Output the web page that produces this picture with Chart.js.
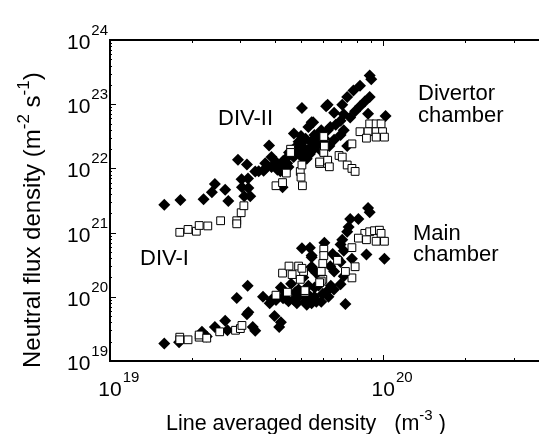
<!DOCTYPE html>
<html>
<head>
<meta charset="utf-8">
<script src="https://cdn.jsdelivr.net/npm/chart.js@4/dist/chart.umd.min.js"></script>
<style>
  html, body { margin: 0; padding: 0; background: #fff; overflow: hidden; }
  #wrap { width: 545px; height: 434px; position: relative; }
</style>
</head>
<body>
<div id="wrap"><canvas id="chart"></canvas></div>
<script>
// ── Data ──────────────────────────────────────────────────────────────────
// x: line averaged density in units of 1e19 m^-3, y: neutral flux density
const X_UNIT = 1e19;

// Divertor chamber, DIV-II (filled diamonds)
const divIIPoints = [
  [1.58, 2.71e21], [1.81, 3.22e21], [2.20, 3.30e21], [2.42, 5.69e21], [2.36, 4.27e21],
  [2.64, 4.64e21], [2.71, 3.11e21], [2.94, 1.36e22], [3.17, 1.15e22], [3.03, 6.75e21],
  [3.20, 6.98e21], [3.04, 5.07e21], [3.21, 4.96e21], [3.10, 3.69e21], [3.26, 3.69e21],
  [3.40, 8.97e21], [3.65, 9.18e21], [3.82, 2.28e22], [4.05, 1.26e22], [4.22, 1.15e22],
  [4.40, 1.41e22], [4.52, 1.77e22], [4.71, 3.51e22], [5.04, 8.75e22], [5.47, 5.24e22],
  [6.18, 9.25e22], [4.28, 5.07e21], [5.04, 1.60e22], [5.32, 1.88e22], [5.54, 2.80e22],
  [5.77, 2.23e22], [6.26, 3.94e22], [5.25, 1.41e22], [8.92, 2.80e23], [9.04, 2.44e23],
  [8.22, 1.94e23], [7.78, 1.64e23], [7.38, 1.30e23], [7.08, 9.80e22], [8.92, 1.30e23],
  [8.56, 1.10e23], [8.22, 9.25e22], [7.89, 7.80e22], [7.57, 6.22e22], [6.26, 9.80e22],
  [6.61, 7.38e22], [7.17, 6.96e22], [6.98, 5.54e22], [8.80, 7.13e22], [10.2, 6.57e22],
  [5.54, 5.24e22], [5.32, 4.42e22], [5.93, 3.94e22], [7.17, 3.94e22], [6.98, 3.32e22],
  [6.61, 2.80e22], [6.35, 2.23e22], [5.69, 3.14e22], [5.47, 2.50e22], [5.17, 1.99e22],
  [5.39, 1.67e22], [5.11, 1.41e22], [7.38, 2.23e22], [4.90, 2.60e22], [5.20, 2.90e22],
  [5.60, 3.30e22], [6.00, 2.60e22], [5.90, 1.90e22], [4.60, 1.90e22], [4.30, 1.00e22],
  [3.90, 1.05e22], [4.10, 9.50e21], [3.50, 9.00e21], [4.70, 1.50e22], [6.10, 2.90e22],
  [4.80, 2.20e22], [5.00, 2.40e22], [5.40, 2.10e22], [4.45, 1.20e22], [3.70, 1.00e22],
  [5.00, 3.20e22], [5.70, 2.60e22], [6.00, 3.50e22], [4.90, 1.70e22], [5.50, 1.90e22],
  [6.40, 4.40e22], [6.70, 4.80e22], [4.30, 1.30e22], [3.70, 1.20e22], [3.90, 1.50e22],
  [4.00, 1.10e22], [4.20, 9.00e21], [4.50, 1.05e22]
];

// Divertor chamber, DIV-I (open squares)
const divIPoints = [
  [1.80, 1.01e21], [1.93, 1.12e21], [2.07, 1.05e21], [2.12, 1.29e21], [2.28, 1.27e21],
  [2.54, 1.53e21], [2.91, 1.53e21], [2.91, 1.37e21], [3.02, 2.04e21], [3.09, 2.62e21],
  [4.05, 5.37e21], [4.28, 6.01e21], [4.42, 8.46e21], [4.58, 1.99e22], [4.58, 1.77e22],
  [4.97, 8.97e21], [5.04, 1.13e22], [5.00, 7.31e21], [5.06, 5.37e21], [6.06, 3.14e22],
  [6.06, 1.77e22], [5.85, 1.19e22], [6.26, 1.19e22], [8.92, 4.94e22], [9.42, 4.94e22],
  [9.82, 4.94e22], [8.22, 3.73e22], [8.80, 3.73e22], [9.42, 3.73e22], [9.94, 3.73e22],
  [8.68, 2.96e22], [9.42, 3.07e22], [10.1, 3.07e22], [7.68, 2.41e22], [6.89, 1.59e22],
  [7.08, 1.50e22], [6.09, 2.23e22], [5.85, 1.26e22], [6.26, 1.34e22], [6.35, 1.06e22],
  [7.38, 1.13e22], [7.68, 1.00e22], [7.89, 8.97e21]
];

// Main chamber, DIV-II (filled diamonds)
const mainIIPoints = [
  [1.58, 1.87e19], [1.79, 1.96e19], [2.17, 2.85e19], [2.26, 2.41e19], [2.42, 3.39e19],
  [2.64, 4.24e19], [2.69, 3.01e19], [2.91, 9.60e19], [3.19, 1.49e20], [3.17, 5.33e19],
  [3.21, 5.77e19], [3.33, 3.39e19], [3.40, 2.95e19], [4.00, 5.03e19], [4.22, 4.02e19],
  [4.16, 3.39e19], [3.63, 1.00e20], [3.84, 7.96e19], [4.05, 8.90e19], [4.22, 1.40e20],
  [4.40, 9.44e19], [4.83, 7.96e19], [5.17, 8.40e19], [5.47, 7.96e19], [5.04, 5.69e20],
  [5.47, 4.14e20], [5.47, 2.78e20], [5.93, 8.40e19], [6.09, 6.92e20], [4.77, 1.18e20],
  [5.61, 1.40e20], [8.80, 2.42e21], [8.92, 2.08e21], [8.11, 1.63e21], [7.57, 1.63e21],
  [7.47, 1.22e21], [7.38, 1.03e21], [7.08, 7.74e20], [6.98, 6.52e20], [7.17, 5.21e20],
  [8.68, 4.54e20], [10.1, 3.91e20], [5.39, 5.83e20], [5.47, 4.39e20], [6.53, 4.64e20],
  [7.68, 3.91e20], [6.98, 3.49e20], [5.47, 2.94e20], [5.69, 2.34e20], [6.61, 2.48e20],
  [7.17, 2.09e20], [6.98, 1.57e20], [6.43, 1.49e20], [6.01, 1.12e20], [5.32, 1.49e20],
  [5.17, 1.06e20], [5.47, 9.44e19], [5.25, 7.50e19], [5.69, 8.40e19], [7.27, 7.69e19],
  [4.60, 1.60e20], [4.90, 1.30e20], [5.10, 2.00e20], [4.40, 1.15e20], [4.70, 9.00e19],
  [5.30, 1.10e20], [5.80, 1.50e20], [6.20, 1.20e20], [4.10, 1.00e20], [3.90, 9.00e19],
  [4.50, 8.50e19], [4.30, 9.50e19], [4.90, 1.00e20], [5.60, 1.00e20], [6.30, 1.00e20],
  [6.60, 1.30e20], [5.90, 2.00e20], [6.40, 3.00e20], [6.80, 4.00e20]
];

// Main chamber, DIV-I (open squares)
const mainIPoints = [
  [1.80, 2.35e19], [1.80, 2.14e19], [1.93, 2.14e19], [2.12, 2.35e19], [2.12, 2.54e19],
  [2.26, 2.27e19], [2.52, 2.85e19], [2.88, 3.01e19], [3.00, 3.20e19], [3.04, 3.58e19],
  [4.05, 1.06e20], [4.46, 1.18e20], [5.17, 1.18e20], [4.28, 2.34e20], [4.52, 3.01e20],
  [4.90, 3.01e20], [4.64, 2.22e20], [4.97, 1.87e20], [5.11, 2.48e20], [6.06, 5.50e20],
  [6.06, 4.39e20], [6.01, 3.30e20], [5.93, 2.48e20], [6.01, 1.87e20], [8.56, 9.73e20],
  [8.92, 1.03e21], [9.29, 1.07e21], [9.68, 1.09e21], [9.82, 9.73e20], [8.11, 8.20e20],
  [8.68, 7.74e20], [9.42, 7.33e20], [10.1, 7.33e20], [7.68, 5.83e20], [6.80, 3.70e20],
  [7.89, 2.94e20], [7.68, 1.97e20], [7.27, 2.48e20], [5.93, 1.76e20], [5.04, 2.78e20],
  [5.17, 1.25e20], [5.85, 1.66e20]
];

// axis ranges and tick decades
const X_MIN = 1e19, X_MAX = 3.7e20;
const Y_MIN = 1e19, Y_MAX = 1e24;
const xDecades = [19, 20];
const yDecades = [19, 20, 21, 22, 23, 24];
const minorSteps = [2, 3, 4, 5, 6, 7, 8, 9];

const FONT = '"Liberation Sans", Arial, Helvetica, sans-serif';

const toXY = pts => pts.map(([x, y]) => ({ x: x * X_UNIT, y }));

// ── Inward ticks, 10^n labels and axis titles (drawn on the canvas) ────────
function drawPow(ctx, x, y, exp, align) {
  // "10" baseline at y; exponent raised; align 'center' or 'right'
  ctx.font = '21px ' + FONT;
  const wBase = ctx.measureText('10').width;
  ctx.font = '15px ' + FONT;
  const wExp = ctx.measureText(String(exp)).width;
  const left = align === 'right' ? x - wBase - wExp : x - wBase / 2;
  ctx.font = '21px ' + FONT;
  ctx.fillText('10', left, y);
  ctx.font = '15px ' + FONT;
  ctx.fillText(String(exp), left + wBase + 1, y - 14);
}

function drawRuns(ctx, runs, x, y, size) {
  // runs: [text, superscript?]
  const supSize = Math.round(size * 0.7);
  let cx = x;
  for (const [t, sup] of runs) {
    ctx.font = (sup ? supSize : size) + 'px ' + FONT;
    ctx.fillText(t, cx, sup ? y - size * 0.45 : y);
    cx += ctx.measureText(t).width;
  }
}

const framePlugin = {
  id: 'frame',
  afterDraw(chart) {
    const { ctx, chartArea: a, scales: { x, y } } = chart;
    ctx.save();
    ctx.strokeStyle = '#000';
    ctx.fillStyle = '#000';
    ctx.lineWidth = 1;
    ctx.textBaseline = 'alphabetic';
    ctx.textAlign = 'left';

    const seg = (x1, y1, x2, y2) => { ctx.beginPath(); ctx.moveTo(x1, y1); ctx.lineTo(x2, y2); ctx.stroke(); };

    // x ticks, bottom and top, pointing in
    for (const d of xDecades) {
      for (const m of [1, ...minorSteps]) {
        const v = m * Math.pow(10, d);
        if (v > x.max) break;
        const px = Math.round(x.getPixelForValue(v)) + 0.5;
        const len = m === 1 ? 6 : 3;
        seg(px, a.bottom, px, a.bottom - len);
        seg(px, a.top, px, a.top + len);
      }
    }
    // y ticks, left, pointing in
    for (const d of yDecades) {
      for (const m of [1, ...minorSteps]) {
        const v = m * Math.pow(10, d);
        if (v > y.max) break;
        const py = Math.round(y.getPixelForValue(v)) + 0.5;
        seg(a.left, py, a.left + (m === 1 ? 6 : 2), py);
      }
    }

    // tick labels
    for (const d of xDecades) {
      drawPow(ctx, x.getPixelForValue(Math.pow(10, d)), a.bottom + 35, d, 'center');
    }
    for (const d of yDecades) {
      drawPow(ctx, a.left - 3, y.getPixelForValue(Math.pow(10, d)) + 9, d, 'right');
    }

    // x title
    drawRuns(ctx, [['Line averaged density   (m', false], ['-3', true], [' )', false]], 166, 430, 21.5);

    // y title, rotated
    ctx.save();
    ctx.translate(40, 368);
    ctx.rotate(-Math.PI / 2);
    drawRuns(ctx, [['Neutral flux density (m', false], ['-2', true], [' s', false], ['-1', true], [')', false]], 0, 0, 24);
    ctx.restore();

    // annotations
    ctx.font = '22px ' + FONT;
    ctx.fillText('DIV-II', 218, 125);
    ctx.fillText('DIV-I', 140, 265);
    ctx.fillText('Divertor', 418, 100);
    ctx.fillText('chamber', 418, 122);
    ctx.fillText('Main', 413, 240);
    ctx.fillText('chamber', 413, 261);
    ctx.restore();
  }
};

const diamond = { pointStyle: 'rectRot', pointRadius: 6, backgroundColor: '#000', borderColor: '#000', borderWidth: 0 };
const square = { pointStyle: 'rect', pointRadius: 5.5, backgroundColor: '#fff', borderColor: '#000', borderWidth: 1 };

const axisBase = {
  type: 'logarithmic',
  ticks: { display: false },
  grid: { display: false },
  border: { display: true, color: '#000', width: 2 }
};

new Chart(document.getElementById('chart'), {
  type: 'scatter',
  data: {
    datasets: [
      // first dataset is painted last, so open squares sit on top
      { label: 'Divertor DIV-I', data: toXY(divIPoints), ...square },
      { label: 'Main DIV-I', data: toXY(mainIPoints), ...square },
      { label: 'Divertor DIV-II', data: toXY(divIIPoints), ...diamond },
      { label: 'Main DIV-II', data: toXY(mainIIPoints), ...diamond }
    ]
  },
  options: {
    responsive: true,
    maintainAspectRatio: false,
    animation: false,
    events: [],
    layout: { padding: { left: 102, top: 32, right: 0, bottom: 65 } },
    plugins: { legend: { display: false }, tooltip: { enabled: false } },
    scales: {
      x: { ...axisBase, position: 'bottom', min: X_MIN, max: X_MAX },
      x2: { ...axisBase, position: 'top', min: X_MIN, max: X_MAX },
      y: { ...axisBase, position: 'left', min: Y_MIN, max: Y_MAX }
    }
  },
  plugins: [framePlugin]
});
</script>
</body>
</html>
